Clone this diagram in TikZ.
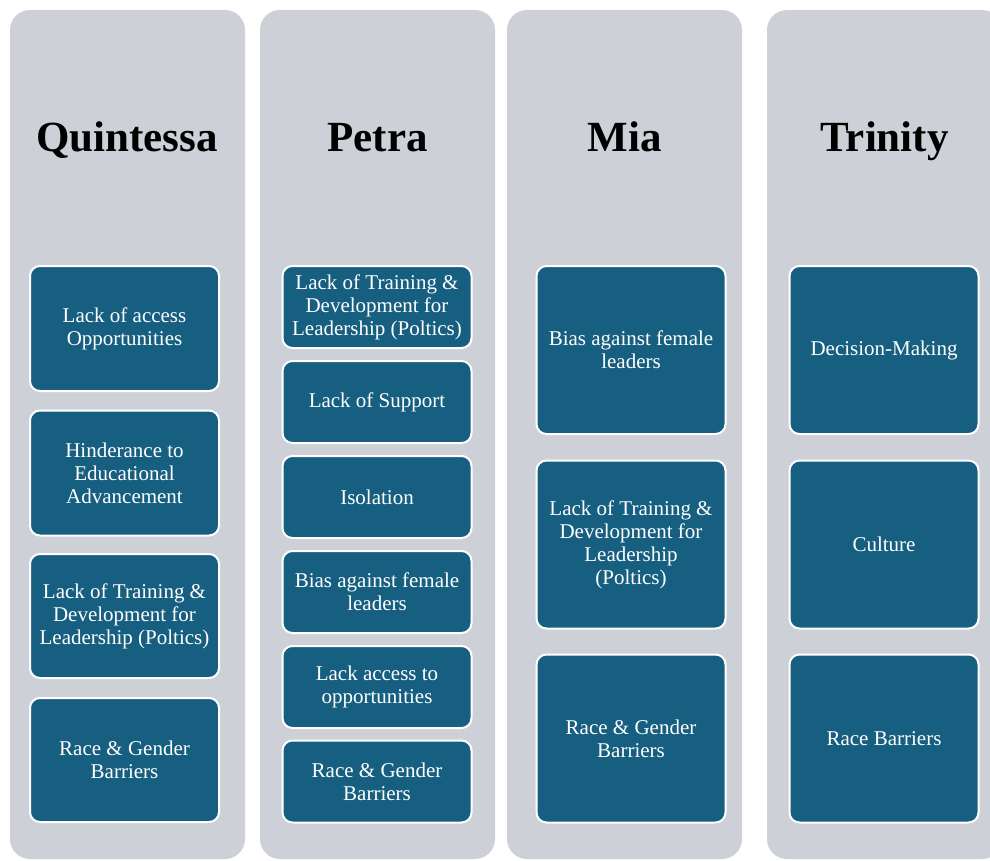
\documentclass[tikz,border=0pt]{standalone}
\usepackage{fontspec}
\setmainfont{Liberation Serif}
\definecolor{colgray}{HTML}{CDD1D7}
\definecolor{boxblue}{HTML}{175F80}
\tikzset{
  column/.style={fill=colgray, draw=none, rounded corners=20pt},
  title/.style={anchor=base, font=\fontsize{43}{48}\selectfont\bfseries, text=black, inner sep=0pt},
  item/.style={draw=white, line width=2pt, fill=boxblue, rounded corners=10pt, text=white,
    align=center, font=\fontsize{21}{23}\selectfont, inner sep=0pt, minimum width=189pt},
}
\begin{document}
\begin{tikzpicture}[x=1pt,y=-1pt]
\useasboundingbox (0,0) rectangle (990,860);
\clip (0,0) rectangle (990,860);
\fill[white] (0,0) rectangle (990,860);
% columns
\path[column] (10,10) rectangle (245,859);
\path[column] (260,10) rectangle (495,859);
\path[column] (507,10) rectangle (742,859);
\path[column] (767,10) rectangle (1002,859);
% titles
\node[title] (tq) at (127,151) {Quintessa};
\node[title] (tp) at (377.5,151) {Petra};
\node[title] (tm) at (624.5,151) {Mia};
\node[title] (tt) at (884.5,151) {Trinity};
% Quintessa
\node[item, minimum height=125pt] (q1) at (124.5,328.5) {Lack of access\\Opportunities};
\node[item, minimum height=125pt] (q2) at (124.5,473) {Hinderance to\\Educational\\Advancement};
\node[item, minimum height=124pt] (q3) at (124.5,616) {Lack of Training \&\\Development for\\Leadership (Poltics)};
\node[item, minimum height=124pt] (q4) at (124.5,760) {Race \& Gender\\Barriers};
% Petra
\node[item, minimum height=82pt] (p1) at (377,307) {Lack of Training \&\\Development for\\Leadership (Poltics)};
\node[item, minimum height=82pt] (p2) at (377,402) {Lack of Support};
\node[item, minimum height=82pt] (p3) at (377,497) {Isolation};
\node[item, minimum height=82pt] (p4) at (377,592) {Bias against female\\leaders};
\node[item, minimum height=82pt] (p5) at (377,687) {Lack access to\\opportunities};
\node[item, minimum height=82pt] (p6) at (377,781.5) {Race \& Gender\\Barriers};
% Mia
\node[item, minimum height=168pt] (m1) at (631,350) {Bias against female\\leaders};
\node[item, minimum height=168pt] (m2) at (631,544.5) {Lack of Training \&\\Development for\\Leadership\\(Poltics)};
\node[item, minimum height=168pt] (m3) at (631,738.5) {Race \& Gender\\Barriers};
% Trinity
\node[item, minimum height=168pt] (t1) at (884,350) {Decision-Making};
\node[item, minimum height=168pt] (t2) at (884,544.5) {Culture};
\node[item, minimum height=168pt] (t3) at (884,738.5) {Race Barriers};
\end{tikzpicture}
\end{document}
